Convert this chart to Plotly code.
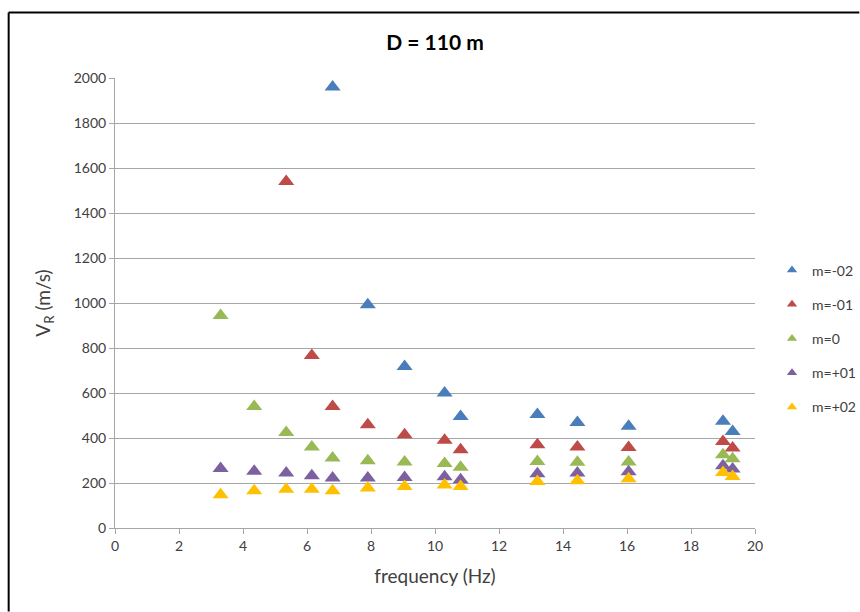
import plotly.graph_objects as go

freq = [3.3, 4.35, 5.35, 6.15, 6.8, 7.9, 9.05, 10.3, 10.8, 13.2, 14.45, 16.05, 19.0, 19.3]
m_m02 = [None, None, None, None, 1960, 992, 718, 600, 496, 504, 469, 452, 474, 429]
m_m01 = [None, None, 1540, 767, 540, 459, 415, 390, 348, 370, 360, 358, 385, 356]
m_0 = [944, 540, 425, 360, 311, 299, 293, 287, 270, 296, 292, 293, 326, 308]
m_p01 = [264, 252, 244, 232, 222, 222, 225, 228, 215, 241, 244, 250, 277, 262]
m_p02 = [148, 166, 172, 172, 166, 178, 184, 191, 184, 207, 210, 219, 247, 229]

series_names = ["m=-02", "m=-01", "m=0", "m=+01", "m=+02"]
series_values = [m_m02, m_m01, m_0, m_p01, m_p02]
colors = ["#4A7EBB", "#BE4B48", "#98B954", "#7D60A0", "#FFC000"]

x_ticks = list(range(0, 21, 2))
y_ticks = list(range(0, 2001, 200))

FONT = "Lato, Carlito, Calibri, sans-serif"

fig = go.Figure()
for name, vals, col in zip(series_names, series_values, colors):
    fig.add_trace(go.Scatter(
        x=freq, y=vals, mode="markers", name=name, showlegend=False,
        marker=dict(symbol="triangle-up", size=14, color=col, line=dict(width=0)),
    ))
for name, col in zip(series_names, colors):
    fig.add_trace(go.Scatter(
        x=[None], y=[None], mode="markers", name=name, legendgroup=name,
        marker=dict(symbol="triangle-up", size=9, color=col, line=dict(width=0)),
    ))

L, R, T, B = 114.5, 104.5, 77.5, 83.7
W, H = 860, 612
pw, ph = W - L - R, H - T - B

def px(x):
    return (x - L) / pw

def py(y):
    return (H - B - y) / ph

fig.update_layout(
    width=W, height=H,
    margin=dict(l=L, r=R, t=T, b=B, pad=0, autoexpand=False),
    paper_bgcolor="white", plot_bgcolor="white",
    font=dict(family=FONT, size=14, color="#404040"),
    title=dict(text="<b>D = 110 m</b>", x=0.5, xref="paper", xanchor="center",
               y=1 - 43 / H, yanchor="middle",
               font=dict(family=FONT, size=21, color="#000000")),
    xaxis=dict(range=[0, 20], tickvals=x_ticks, showgrid=False, zeroline=False,
               showline=True, linecolor="#A6A6A6", linewidth=1,
               ticks="outside", ticklen=5, tickcolor="#A6A6A6",
               tickfont=dict(size=14, color="#404040"),
               title=dict(text="frequency (Hz)", standoff=16,
                          font=dict(size=19, color="#404040"))),
    yaxis=dict(range=[0, 2000], tickvals=y_ticks, showgrid=True, gridcolor="#A6A6A6",
               gridwidth=1, zeroline=False, showline=True, linecolor="#A6A6A6",
               linewidth=1, ticks="outside", ticklen=5, tickcolor="#A6A6A6",
               tickfont=dict(size=14, color="#404040"),
               title=dict(text="V<sub>R</sub> (m/s)", standoff=18,
                          font=dict(size=19, color="#404040"))),
    legend=dict(xref="container", yref="container", x=772 / W, xanchor="left",
                y=1 - 338.5 / H, yanchor="middle",
                tracegroupgap=13, font=dict(size=14, color="#404040"),
                bgcolor="rgba(0,0,0,0)"),
    shapes=[
        dict(type="line", xref="paper", yref="paper", x0=px(8), x1=px(W), y0=py(12), y1=py(12),
             line=dict(color="#000000", width=2)),
        dict(type="line", xref="paper", yref="paper", x0=px(8), x1=px(8), y0=py(12), y1=py(H),
             line=dict(color="#000000", width=2)),
    ],
)

fig.write_html("out.html")
